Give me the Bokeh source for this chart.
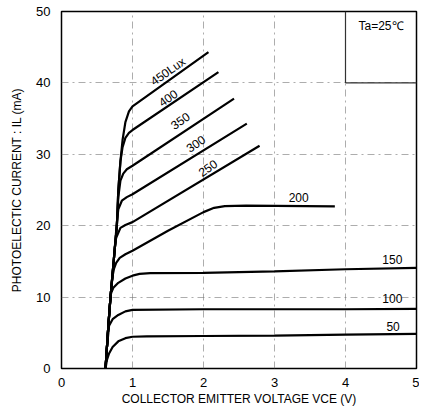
from bokeh.plotting import figure
from bokeh.embed import file_html
from bokeh.resources import INLINE
from bokeh.models import Range1d, FixedTicker
from bokeh.core.properties import value

# ---- data (Vce in V, IL in mA) ----
v50 = [0.62, 0.64, 0.67, 0.72, 0.80, 0.90, 1.00, 1.20, 2.0, 3.0, 4.0, 5.0]
i50 = [0.0, 1.2, 2.1, 3.0, 3.8, 4.25, 4.45, 4.5, 4.55, 4.6, 4.75, 4.85]

v100 = [0.62, 0.64, 0.66, 0.67, 0.72, 0.80, 0.90, 1.00, 2.0, 3.0, 4.0, 5.0]
i100 = [0.0, 3.0, 5.0, 6.0, 6.9, 7.5, 8.0, 8.2, 8.3, 8.3, 8.3, 8.35]

v150 = [0.62, 0.64, 0.66, 0.69, 0.70, 0.73, 0.80, 0.90, 1.00, 1.10, 1.25, 2.0, 3.0, 4.0, 5.0]
i150 = [0.0, 3.0, 6.0, 10.0, 10.6, 11.3, 12.0, 12.6, 13.0, 13.25, 13.35, 13.4, 13.6, 13.9, 14.1]

v200 = [0.62, 0.64, 0.66, 0.69, 0.72, 0.74, 0.77, 0.82, 0.90, 1.00, 1.50, 2.00, 2.15, 2.30, 2.60, 3.85]
i200 = [0.0, 3.0, 6.0, 10.0, 13.0, 14.0, 14.8, 15.5, 16.0, 16.5, 19.3, 21.9, 22.5, 22.75, 22.8, 22.7]

v250 = [0.62, 0.64, 0.66, 0.69, 0.735, 0.75, 0.77, 0.83, 0.90, 1.00, 2.79]
i250 = [0.0, 3.0, 6.0, 10.0, 15.0, 17.0, 18.3, 19.7, 20.1, 20.5, 31.2]

v300 = [0.62, 0.64, 0.66, 0.69, 0.735, 0.78, 0.80, 0.85, 0.92, 1.00, 2.61]
i300 = [0.0, 3.0, 6.0, 10.0, 15.0, 20.5, 22.3, 23.5, 24.0, 24.4, 34.3]

v350 = [0.62, 0.64, 0.66, 0.69, 0.735, 0.78, 0.80, 0.83, 0.87, 0.92, 1.00, 2.43]
i350 = [0.0, 3.0, 6.0, 10.0, 15.0, 20.0, 24.0, 26.3, 27.3, 27.9, 28.4, 37.8]

v400 = [0.62, 0.64, 0.66, 0.69, 0.735, 0.78, 0.80, 0.83, 0.86, 0.90, 0.95, 1.00, 2.21]
i400 = [0.0, 3.0, 6.0, 10.0, 15.0, 20.0, 25.0, 29.0, 31.0, 32.3, 33.0, 33.4, 41.5]

v450 = [0.62, 0.64, 0.66, 0.69, 0.735, 0.78, 0.80, 0.83, 0.86, 0.90, 0.95, 1.00, 2.07]
i450 = [0.0, 3.0, 6.0, 10.0, 15.0, 20.0, 25.0, 29.0, 32.0, 34.5, 36.0, 36.7, 44.3]

curves_v = [v50, v100, v150, v200, v250, v300, v350, v400, v450]
curves_i = [i50, i100, i150, i200, i250, i300, i350, i400, i450]

# curve labels
lab_text = ["450Lux", "400", "350", "300", "250", "200", "150", "100", "50"]
lab_x = [1.50, 1.50, 1.67, 1.89, 2.06, 3.34, 4.66, 4.66, 4.67]
lab_y = [41.6, 37.9, 34.7, 31.5, 28.1, 24.0, 15.2, 9.8, 5.9]
lab_ang = [35, 35, 35, 35, 35, 0, 0, 0, 0]

x_ticks = [0, 1, 2, 3, 4, 5]
y_ticks = [0, 10, 20, 30, 40, 50]

# box around the temperature note
box_x = [[4, 4], [4, 5]]
box_y = [[40, 50], [40, 40]]
note_text = ["Ta=25℃"]
note_x = [4.5]
note_y = [47.9]

FONT = "Liberation Sans"

p = figure(width=419, height=411, output_backend="svg", toolbar_location=None,
           x_range=Range1d(0, 5), y_range=Range1d(0, 50),
           min_border_left=61, min_border_right=3, min_border_top=11,
           min_border_bottom=43)

p.outline_line_color = "black"
p.outline_line_width = 1.5

for ax in (p.xaxis, p.yaxis):
    ax.axis_line_color = None
    ax.major_tick_line_color = None
    ax.minor_tick_line_color = None
    ax.major_label_text_font = FONT
    ax.major_label_text_font_size = "13px"
    ax.major_label_text_color = "black"
    ax.axis_label_text_font = FONT
    ax.axis_label_text_font_size = "12px"
    ax.axis_label_text_font_style = "normal"
    ax.axis_label_text_color = "black"

p.xaxis.ticker = FixedTicker(ticks=x_ticks)
p.yaxis.ticker = FixedTicker(ticks=y_ticks)
p.xaxis.major_label_standoff = 3
p.yaxis.major_label_standoff = 5
p.xaxis.axis_label = "COLLECTOR EMITTER VOLTAGE VCE (V)"
p.yaxis.axis_label = "PHOTOELECTIC CURRENT : IL (mA)"
p.xaxis.axis_label_standoff = 2
p.yaxis.axis_label_standoff = 9

p.grid.grid_line_color = "#777777"
p.grid.grid_line_dash = "7 4 2 4"
p.grid.grid_line_width = 1
p.grid.grid_line_alpha = 0.6

p.multi_line(box_x, box_y, line_color="#333333", line_width=1.2)

for vv, ii in zip(curves_v, curves_i):
    p.line(vv, ii, line_color="black", line_width=2.2)

p.text(x=lab_x, y=lab_y, text=lab_text, angle=lab_ang, angle_units="deg",
       text_font=value(FONT), text_font_size="12px", text_align="center",
       text_baseline="middle", text_color="black")

p.text(x=note_x, y=note_y, text=note_text, text_font=value(FONT),
       text_font_size="12px", text_align="center", text_baseline="middle",
       text_color="black")

open("out.html", "w").write(file_html(p, INLINE))
